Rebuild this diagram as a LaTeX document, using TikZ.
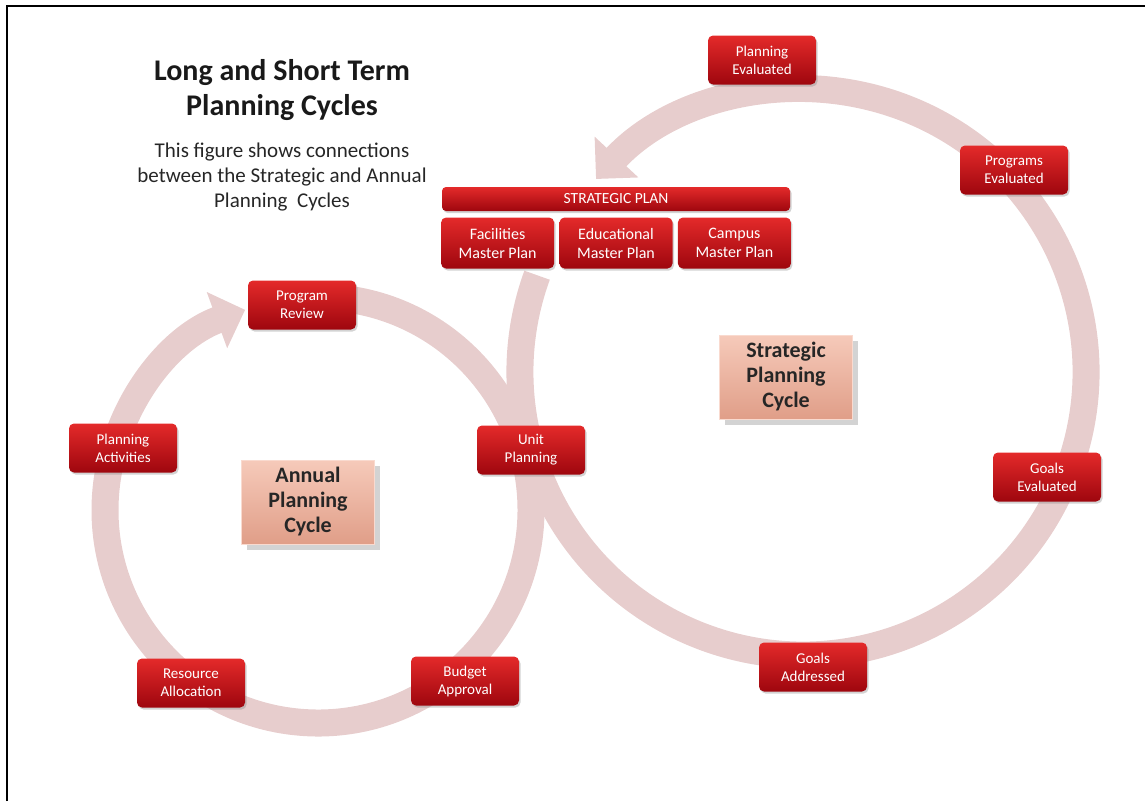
\documentclass[tikz,border=0pt]{standalone}
\usepackage{fontspec}
\setmainfont{Carlito}
\usetikzlibrary{arrows.meta, positioning, shadows}

\definecolor{bandpink}{RGB}{231,205,205}
\definecolor{redhi}{RGB}{228,42,42}
\definecolor{redmid}{RGB}{204,18,24}
\definecolor{redlo}{RGB}{158,6,14}
\definecolor{salmonhi}{RGB}{246,202,186}
\definecolor{salmonlo}{RGB}{224,158,136}

\begin{document}
\begin{tikzpicture}[x=1pt, y=-1pt,
    stepnode/.style={rounded corners=5pt, top color=redhi, middle color=redmid, bottom color=redlo,
        text=white, align=center, minimum width=108pt, minimum height=49pt, inner sep=2pt,
        font=\fontsize{15}{18}\selectfont,
        drop shadow={shadow xshift=1.5pt, shadow yshift=-2pt, opacity=.35}},
    masterbox/.style={stepnode, minimum width=113pt, minimum height=51pt,
        font=\fontsize{16}{19}\selectfont},
    planbar/.style={stepnode, minimum width=348pt, minimum height=24pt, rounded corners=4pt,
        font=\fontsize{15.5}{16}\selectfont},
    cyclebox/.style={top color=salmonhi, bottom color=salmonlo, draw=salmonhi!70!white,
        align=center, minimum width=133pt, minimum height=84pt, text=black!85,
        font=\bfseries\fontsize{22}{25}\selectfont,
        drop shadow={shadow xshift=5pt, shadow yshift=-6pt, opacity=.35}},
    band/.style={draw=bandpink, line width=27pt, -{Triangle[length=30pt, width=58pt]}},
    titletext/.style={align=center, font=\bfseries\fontsize{30}{35}\selectfont, text=black!90},
    subtext/.style={align=center, font=\fontsize{21}{25}\selectfont, text=black!85}
]
\useasboundingbox (0,0) rectangle (1145,801);

% frame
\coordinate (fbot) at (7,801);
\coordinate (fcorner) at (7,6);
\coordinate (fright) at (1145,6);
\draw[line width=2pt] (fbot) -- (fcorner) -- (fright);

% cycle centres
\coordinate (acen) at (318,510);
\coordinate (scen) at (803,372);

% cycle arrows
\draw[band] ([shift={(-85:213)}]acen) arc[start angle=-85, end angle=250, radius=213];
\draw[band] ([shift={(-160:283)}]scen) arc[start angle=-160, end angle=-497, radius=283];

% title
\node[titletext] (title) at (282,90) {Long and Short Term\\Planning Cycles};
\node[subtext] (sub) at (282,177) {This figure shows connections\\between the Strategic and Annual\\Planning\ \ Cycles};

% strategic plan
\node[planbar] (splan) at (616,199) {STRATEGIC PLAN};
\node[masterbox] (edu) at (616,243) {Educational\\Master Plan};
\node[masterbox, left=5pt of edu] (fac) {Facilities\\Master Plan};
\node[masterbox, right=5pt of edu] (campus) {Campus\\Master Plan};

% strategic cycle
\node[stepnode] (peval) at (762,60) {Planning\\Evaluated};
\node[stepnode] (prgeval) at (1014,170) {Programs\\Evaluated};
\node[stepnode] (geval) at (1047,477) {Goals\\Evaluated};
\node[stepnode] (gaddr) at (813,667) {Goals\\Addressed};
\node[cyclebox] (strat) at (786,377) {Strategic\\Planning\\Cycle};

% annual cycle
\node[stepnode] (unit) at (531,450) {Unit\\Planning};
\node[stepnode] (budget) at (465,681) {Budget\\Approval};
\node[stepnode] (resalloc) at (191,683) {Resource\\Allocation};
\node[stepnode] (planact) at (123,448) {Planning\\Activities};
\node[stepnode] (review) at (302,305) {Program\\Review};
\node[cyclebox] (annual) at (308,502) {Annual\\Planning\\Cycle};
\end{tikzpicture}
\end{document}
